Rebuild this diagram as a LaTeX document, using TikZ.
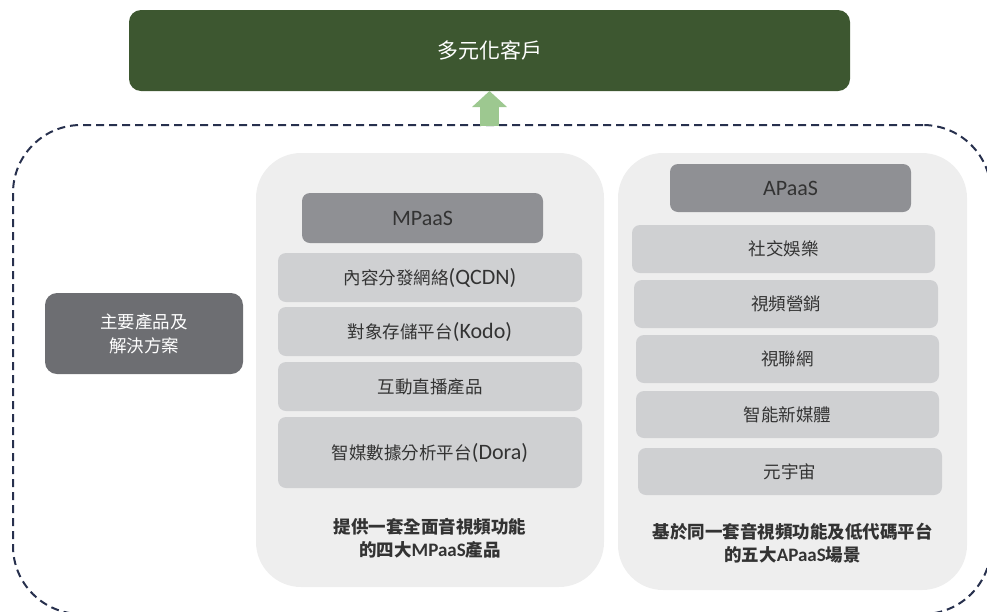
\documentclass[tikz,border=0pt]{standalone}
\usepackage{fontspec}
\setmainfont{Carlito}
\newfontfamily\cjk{Noto Sans CJK TC}
\usetikzlibrary{arrows.meta}
\definecolor{bannergreen}{HTML}{3D5730}
\definecolor{arrowgreen}{HTML}{9DC890}
\definecolor{framenavy}{HTML}{27304D}
\definecolor{panelgrey}{HTML}{EEEEEE}
\definecolor{itemgrey}{HTML}{CFD0D2}
\definecolor{headgrey}{HTML}{8F9094}
\definecolor{leftgrey}{HTML}{6D6E72}
\definecolor{txtdark}{HTML}{333333}
\newcommand\zh[1]{{\fontsize{17.5}{24}\selectfont\cjk #1}}
\newcommand\zhb[1]{{\fontsize{17.5}{23}\selectfont\cjk\bfseries #1}}
\begin{document}
\begin{tikzpicture}[x=1pt,y=-1pt,
  box/.style={inner sep=0pt, outer sep=0pt, anchor=center},
  bannerbox/.style={box, fill=bannergreen, rounded corners=12pt, text=white},
  panelbox/.style={box, fill=panelgrey, rounded corners=45pt},
  headbox/.style={box, fill=headgrey, rounded corners=8pt, text=txtdark, font=\fontsize{22}{26}\selectfont},
  itembox/.style={box, fill=itemgrey, rounded corners=8pt, text=txtdark, font=\fontsize{22}{24}\selectfont},
  leftbox/.style={box, fill=leftgrey, rounded corners=12pt, text=white, align=center, font=\fontsize{17.5}{24}\selectfont},
  captext/.style={box, align=center, text=txtdark, font=\fontsize{19}{23}\selectfont\bfseries},
  framebox/.style={box, draw=framenavy, line width=2pt, dash pattern=on 8pt off 5pt, rounded corners=68pt},
  uparrow/.style={draw=arrowgreen, line width=19pt, -{Triangle[width=34pt,length=16pt,fill=arrowgreen]}}
]
\useasboundingbox (0,0) rectangle (987,611);
\clip (0,0) rectangle (987,611);

% outer dashed frame
\node[framebox, minimum width=978pt, minimum height=489pt] (frame) at (502,369.5) {};

% top banner
\node[bannerbox, minimum width=721pt, minimum height=81pt] (banner) at (489.5,50.5)
  {{\fontsize{21}{24}\selectfont\cjk 多元化客戶}};

% arrow
\coordinate (arrowbase) at (banner.south |- frame.north);
\draw[uparrow] ([yshift=-1pt]arrowbase) -- (banner.south);

% left box
\node[leftbox, minimum width=198pt, minimum height=81pt] (left) at (144,333.5)
  {\zh{主要產品及}\\\zh{解決方案}};

% MPaaS panel
\node[panelbox, minimum width=348pt, minimum height=434pt] (mpanel) at (430,370) {};
\node[headbox, minimum width=241pt, minimum height=50pt] (mhead) at (422.5,218) {MPaaS};
\node[itembox, minimum width=304pt, minimum height=49pt] (m1) at (430,277.5) {\zh{內容分發網絡}(QCDN)};
\node[itembox, minimum width=304pt, minimum height=49pt] (m2) at (430,331.5) {\zh{對象存儲平台}(Kodo)};
\node[itembox, minimum width=304pt, minimum height=49pt] (m3) at (430,386.5) {\zh{互動直播產品}};
\node[itembox, minimum width=304pt, minimum height=71pt] (m4) at (430,452.5) {\zh{智媒數據分析平台}(Dora)};
\node[captext] (mcap) at (430,538) {\zhb{提供一套全面音視頻功能}\\\zhb{的四大}MPaaS\zhb{產品}};

% APaaS panel
\node[panelbox, minimum width=349pt, minimum height=437pt] (apanel) at (792.5,371.5) {};
\node[headbox, minimum width=241pt, minimum height=48pt] (ahead) at (790.5,188) {APaaS};
\node[itembox, minimum width=303pt, minimum height=48pt] (a1) at (783.5,249) {\zh{社交娛樂}};
\node[itembox, minimum width=304pt, minimum height=48pt] (a2) at (786,304) {\zh{視頻營銷}};
\node[itembox, minimum width=303pt, minimum height=48pt] (a3) at (787.5,359) {\zh{視聯網}};
\node[itembox, minimum width=303pt, minimum height=47pt] (a4) at (787.5,414.5) {\zh{智能新媒體}};
\node[itembox, minimum width=304pt, minimum height=47pt] (a5) at (790,471.5) {\zh{元宇宙}};
\node[captext] (acap) at (792.5,543.5) {\zhb{基於同一套音視頻功能及低代碼平台}\\\zhb{的五大}APaaS\zhb{場景}};
\end{tikzpicture}
\end{document}
